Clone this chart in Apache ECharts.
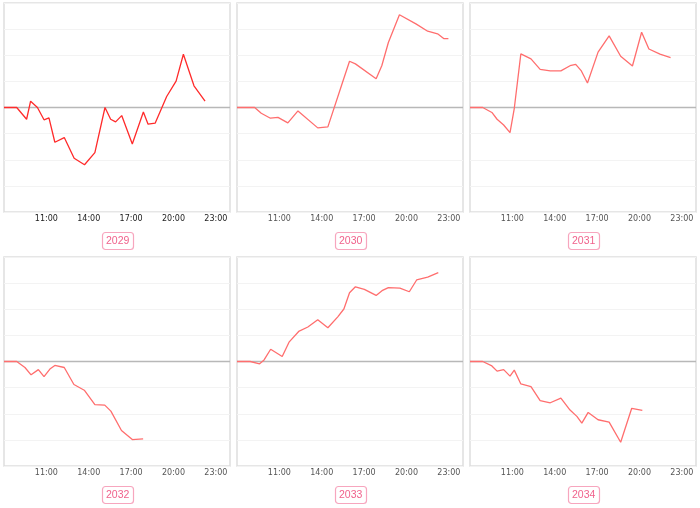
<!DOCTYPE html>
<html><head><meta charset="utf-8">
<script src="https://cdn.jsdelivr.net/npm/echarts@6/dist/echarts.min.js"></script>
<style>html,body{margin:0;padding:0;background:#fff}#c{width:700px;height:508px}</style>
</head><body><div id="c"></div>
<script>
const panelNames = ['2029','2030','2031','2032','2033','2034'];
const xTickLabels = ['11:00','14:00','17:00','20:00','23:00'];

const times2029 = ['08:00','08:54','09:36','09:53','10:22','10:50','11:11','11:36','12:16','12:58','13:42','14:26','15:09','15:33','15:54','16:20','17:05','17:52','18:12','18:42','19:31','20:11','20:42','21:27','22:14'];
const values2029 = [0,0,-0.45,0.24,0,-0.47,-0.4,-1.33,-1.15,-1.94,-2.19,-1.73,0,-0.45,-0.55,-0.31,-1.4,-0.17,-0.64,-0.6,0.42,1.01,2.04,0.83,0.24];

const times2030 = ['08:00','09:15','09:43','10:22','10:54','11:36','12:19','13:43','14:26','15:26','15:58','16:23','17:51','18:15','18:43','19:30','20:40','21:30','22:12','22:38','22:58'];
const values2030 = [0,0,-0.22,-0.41,-0.38,-0.59,-0.13,-0.78,-0.74,0.9,1.77,1.67,1.1,1.6,2.49,3.55,3.2,2.92,2.82,2.64,2.64];

const times2031 = ['08:00','08:54','09:33','09:55','10:23','10:50','11:08','11:36','12:19','12:58','13:41','14:26','15:05','15:29','15:53','16:19','17:04','17:51','18:40','19:30','20:09','20:40','21:27','22:12'];
const values2031 = [0,0,-0.19,-0.45,-0.67,-0.96,-0.04,2.05,1.86,1.46,1.4,1.4,1.6,1.65,1.4,0.94,2.12,2.74,1.96,1.59,2.88,2.24,2.04,1.91];

const times2032 = ['08:00','08:54','09:29','09:55','10:26','10:50','11:15','11:36','12:16','12:57','13:41','14:26','15:08','15:34','16:19','17:05','17:51'];
const values2032 = [0,0,-0.23,-0.51,-0.31,-0.58,-0.29,-0.15,-0.23,-0.88,-1.1,-1.65,-1.67,-1.9,-2.64,-2.99,-2.96];

const times2033 = ['08:00','08:56','09:36','09:55','10:23','11:12','11:41','12:22','13:01','13:43','14:26','15:08','15:34','15:58','16:23','17:01','17:51','18:16','18:43','19:32','20:12','20:43','21:30','22:15'];
const values2033 = [0,0,-0.09,0.06,0.47,0.19,0.74,1.15,1.32,1.6,1.29,1.71,2.01,2.63,2.86,2.76,2.53,2.71,2.83,2.81,2.67,3.12,3.23,3.4];

const times2034 = ['08:00','08:54','09:33','09:55','10:23','10:50','11:08','11:36','12:19','12:58','13:41','14:26','15:05','15:34','15:55','16:22','17:04','17:51','18:40','19:27','20:12'];
const values2034 = [0,0,-0.17,-0.37,-0.31,-0.56,-0.33,-0.86,-0.96,-1.5,-1.58,-1.4,-1.86,-2.1,-2.36,-1.95,-2.23,-2.32,-3.09,-1.79,-1.87];

const allTimes = [times2029,times2030,times2031,times2032,times2033,times2034];
const allValues = [values2029,values2030,values2031,values2032,values2033,values2034];
const zeroLine = [[480,0],[1440,0]];

function toMin(s){const p=s.split(':');return (+p[0])*60+(+p[1]);}
function fmt(m){const h=Math.floor(m/60);const mm=m%60;return (h<10?'0':'')+h+':'+(mm<10?'0':'')+mm;}

const lefts=[4,237,470], tops=[3,257], W=226, H=209;
const grids=[], xAxes=[], yAxes=[], series=[], titles=[];
for(let i=0;i<6;i++){
  const col=i%3,row=Math.floor(i/3);
  const first=i===0;
  grids.push({left:lefts[col],top:tops[row],width:W,height:H,show:true,borderColor:'#dedede',borderWidth:1.5,backgroundColor:'transparent'});
  xAxes.push({type:'value',gridIndex:i,min:480,max:1440,interval:180,
    axisLine:{show:false},axisTick:{show:false},splitLine:{show:false},
    axisLabel:{margin:3,fontSize:8,fontFamily:'DejaVu Sans',color:first?'#222':'#555',showMinLabel:false,showMaxLabel:false,
      formatter:v=>{const s=fmt(v);return xTickLabels.indexOf(s)>=0?s:'';}}});
  yAxes.push({type:'value',gridIndex:i,min:-4,max:4,interval:1,
    axisLine:{show:false},axisTick:{show:false},axisLabel:{show:false},
    splitLine:{show:true,lineStyle:{color:'#f3f3f3',width:1}}});
  series.push({type:'line',xAxisIndex:i,yAxisIndex:i,showSymbol:false,symbol:'none',silent:true,z:1,
    data:zeroLine,lineStyle:{color:'#b8b8b8',width:1.5},animation:false});
  series.push({type:'line',xAxisIndex:i,yAxisIndex:i,showSymbol:false,symbol:'none',z:3,
    data:allTimes[i].map((t,k)=>[toMin(t),allValues[i][k]]),
    lineStyle:{color:first?'#ff2a2a':'#ff6e6e',width:1.3},
    animation:false});
  titles.push({text:panelNames[i],left:lefts[col]+W/2-15,top:tops[row]+H+20,
    padding:[4,4,3,4],borderWidth:1.2,borderColor:'#f7a6be',borderRadius:3,
    textStyle:{fontSize:10.5,fontWeight:'normal',fontFamily:'Liberation Sans',color:'#f0628c'}});
}
const chart=echarts.init(document.getElementById('c'),null,{renderer:'canvas'});
chart.setOption({animation:false,title:titles,grid:grids,xAxis:xAxes,yAxis:yAxes,series:series});
</script></body></html>
